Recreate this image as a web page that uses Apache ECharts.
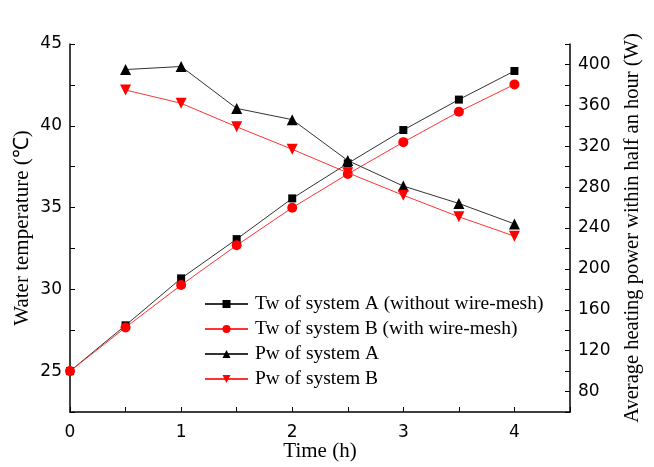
<!DOCTYPE html>
<html>
<head>
<meta charset="utf-8">
<script src="https://cdn.jsdelivr.net/npm/echarts@6/dist/echarts.min.js"></script>
<style>
  html, body { margin: 0; padding: 0; background: #fff; }
  #main { width: 654px; height: 467px; }
</style>
</head>
<body>
<div id="main"></div>
<script>
// time (h)
const timeT = [0, 0.5, 1, 1.5, 2, 2.5, 3, 3.5, 4]
const timeP = [0.5, 1, 1.5, 2, 2.5, 3, 3.5, 4]

// water temperature (C)
const twA = [25, 27.8, 30.67, 33.07, 35.56, 37.7, 39.74, 41.6, 43.35]
const twB = [25, 27.67, 30.26, 32.69, 34.99, 37.05, 39.0, 40.86, 42.53]

// average heating power (W)
const pwA = [395, 398, 357, 346, 306, 281, 264, 244]
const pwB = [375, 362, 339, 317, 294, 272, 251, 232]

const names = [
  "Tw of system A (without wire-mesh)",
  "Tw of system B (with wire-mesh)",
  "Pw of system A",
  "Pw of system B",
]

const pair = (xs, ys) => xs.map((x, i) => [x, ys[i]])

const sans = "'DejaVu Sans', Arial, sans-serif"
const serif = "'Liberation Serif', 'Times New Roman', serif"

const tickLabel = { color: "#000", fontFamily: sans, fontSize: 17 }
const axisName = { color: "#000", fontFamily: serif, fontSize: 21 }
const axisLine = { show: true, lineStyle: { color: "#000", width: 1.5 } }
const axisTick = { show: true, inside: true, length: 5, lineStyle: { color: "#000", width: 1 } }

const chart = echarts.init(document.getElementById("main"))

chart.setOption({
  backgroundColor: "#fff",
  animation: false,
  grid: { left: 70, right: 84, top: 44, bottom: 55, outerBoundsMode: "none", containLabel: false },
  legend: {
    orient: "vertical",
    left: 199,
    top: 289,
    itemWidth: 43,
    itemHeight: 10,
    itemGap: 5,
    textStyle: { color: "#000", fontFamily: serif, fontSize: 19.5, padding: [0, 0, 0, 2] },
    data: names,
  },
  xAxis: {
    type: "value",
    min: 0,
    max: 4.5,
    interval: 0.5,
    name: "Time (h)",
    nameLocation: "middle",
    nameGap: 29,
    nameMoveOverlap: false,
    nameTextStyle: axisName,
    axisLine,
    axisTick,
    splitLine: { show: false },
    axisLabel: {
      ...tickLabel,
      margin: 12,
      formatter: (v) => (Number.isInteger(v) ? String(v) : ""),
    },
  },
  yAxis: [
    {
      type: "value",
      min: 22.5,
      max: 45,
      interval: 2.5,
      name: "Water temperature (\u2103)",
      nameLocation: "middle",
      nameRotate: 90,
      nameGap: 37,
      nameMoveOverlap: false,
      nameTextStyle: axisName,
      axisLine,
      axisTick,
      splitLine: { show: false },
      axisLabel: {
        ...tickLabel,
        margin: 8,
        formatter: (v) => (v % 5 === 0 ? String(v) : ""),
      },
    },
    {
      type: "value",
      position: "right",
      min: 60,
      max: 420,
      interval: 20,
      name: "Average heating power within half an hour (W)",
      nameLocation: "middle",
      nameRotate: 90,
      nameGap: 52,
      nameMoveOverlap: false,
      nameTextStyle: { ...axisName, fontSize: 20.5 },
      axisLine,
      axisTick,
      splitLine: { show: false },
      axisLabel: {
        ...tickLabel,
        margin: 8,
        formatter: (v) => ((v - 80) % 40 === 0 ? String(v) : ""),
      },
    },
  ],
  series: [
    {
      name: names[0],
      type: "line",
      yAxisIndex: 0,
      data: pair(timeT, twA),
      symbol: "rect",
      symbolSize: 8,
      itemStyle: { color: "#000" },
      lineStyle: { color: "#333", width: 1 },
      z: 3,
    },
    {
      name: names[1],
      type: "line",
      yAxisIndex: 0,
      data: pair(timeT, twB),
      symbol: "circle",
      symbolSize: 10,
      itemStyle: { color: "#ff0000" },
      lineStyle: { color: "#ff3333", width: 1 },
      z: 3,
    },
    {
      name: names[2],
      type: "line",
      yAxisIndex: 1,
      data: pair(timeP, pwA),
      symbol: "triangle",
      symbolSize: 11,
      itemStyle: { color: "#000" },
      lineStyle: { color: "#333", width: 1 },
      z: 4,
    },
    {
      name: names[3],
      type: "line",
      yAxisIndex: 1,
      data: pair(timeP, pwB),
      symbol: "triangle",
      symbolRotate: 180,
      symbolSize: 11,
      itemStyle: { color: "#ff0000" },
      lineStyle: { color: "#ff3333", width: 1 },
      z: 4,
    },
  ],
})
</script>
</body>
</html>
